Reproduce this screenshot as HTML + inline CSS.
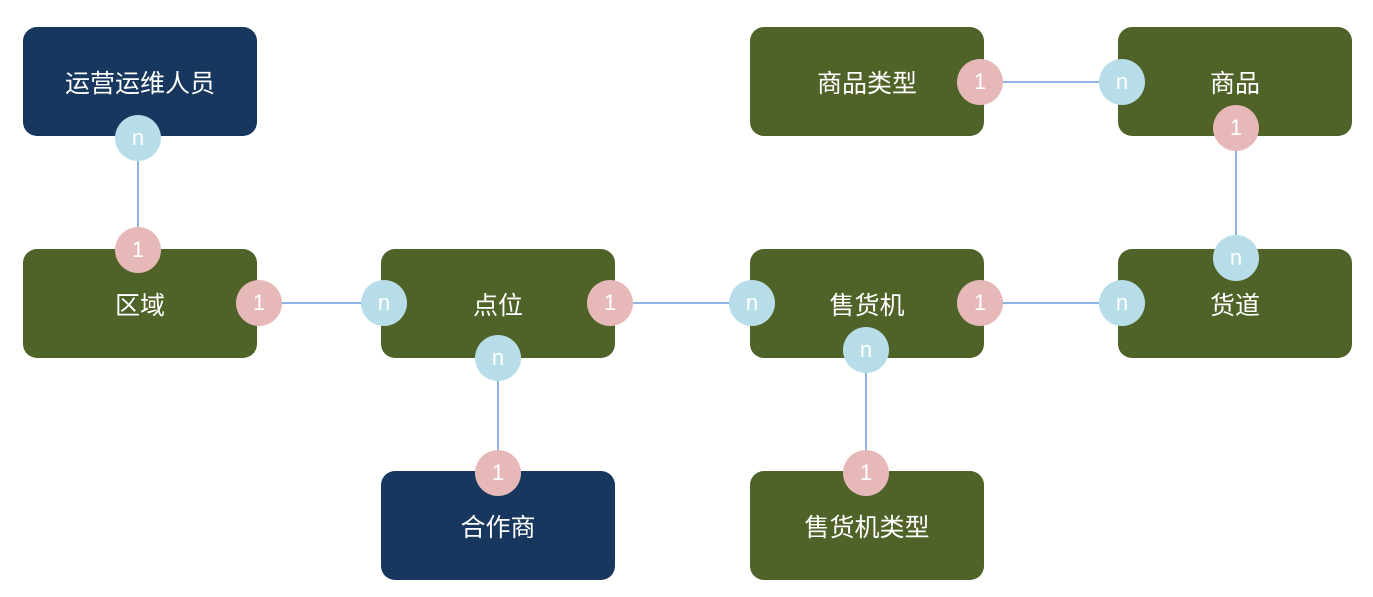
<!DOCTYPE html>
<html><head><meta charset="utf-8"><style>
body{margin:0;width:1373px;height:597px;background:#fff;position:relative;overflow:hidden;font-family:"Liberation Sans","Noto Sans CJK SC",sans-serif}
.b{position:absolute;width:234px;height:109px;border-radius:14px;background:#4f6228;color:#fff;font-size:25px;display:flex;align-items:center;justify-content:center}
.d{background:#17375e}
.c{position:absolute;width:46px;height:46px;border-radius:50%;color:#fff;font-size:22px;display:flex;align-items:center;justify-content:center;margin:-23px 0 0 -23px}
.p{background:#e6b9b8}.n{background:#b7dee8}
svg{position:absolute;left:0;top:0}
</style></head><body>
<svg width="1373" height="597"><g stroke="#8eb4e3" stroke-width="2">
<line x1="138" y1="138" x2="138" y2="250"/>
<line x1="259" y1="303" x2="384" y2="303"/>
<line x1="610" y1="303" x2="752" y2="303"/>
<line x1="980" y1="303" x2="1122" y2="303"/>
<line x1="498" y1="358" x2="498" y2="473"/>
<line x1="866" y1="350" x2="866" y2="473"/>
<line x1="980" y1="82" x2="1122" y2="82"/>
<line x1="1236" y1="128" x2="1236" y2="258"/>
</g></svg>
<div class="b d" style="left:23px;top:27px">运营运维人员</div>
<div class="b" style="left:750px;top:27px">商品类型</div>
<div class="b" style="left:1118px;top:27px">商品</div>
<div class="b" style="left:23px;top:249px">区域</div>
<div class="b" style="left:381px;top:249px">点位</div>
<div class="b" style="left:750px;top:249px">售货机</div>
<div class="b" style="left:1118px;top:249px">货道</div>
<div class="b d" style="left:381px;top:471px">合作商</div>
<div class="b" style="left:750px;top:471px">售货机类型</div>
<div class="c n" style="left:138px;top:138px">n</div>
<div class="c p" style="left:138px;top:250px">1</div>
<div class="c p" style="left:259px;top:303px">1</div>
<div class="c n" style="left:384px;top:303px">n</div>
<div class="c p" style="left:610px;top:303px">1</div>
<div class="c n" style="left:752px;top:303px">n</div>
<div class="c p" style="left:980px;top:303px">1</div>
<div class="c n" style="left:1122px;top:303px">n</div>
<div class="c n" style="left:498px;top:358px">n</div>
<div class="c p" style="left:498px;top:473px">1</div>
<div class="c n" style="left:866px;top:350px">n</div>
<div class="c p" style="left:866px;top:473px">1</div>
<div class="c p" style="left:980px;top:82px">1</div>
<div class="c n" style="left:1122px;top:82px">n</div>
<div class="c p" style="left:1236px;top:128px">1</div>
<div class="c n" style="left:1236px;top:258px">n</div>
</body></html>
